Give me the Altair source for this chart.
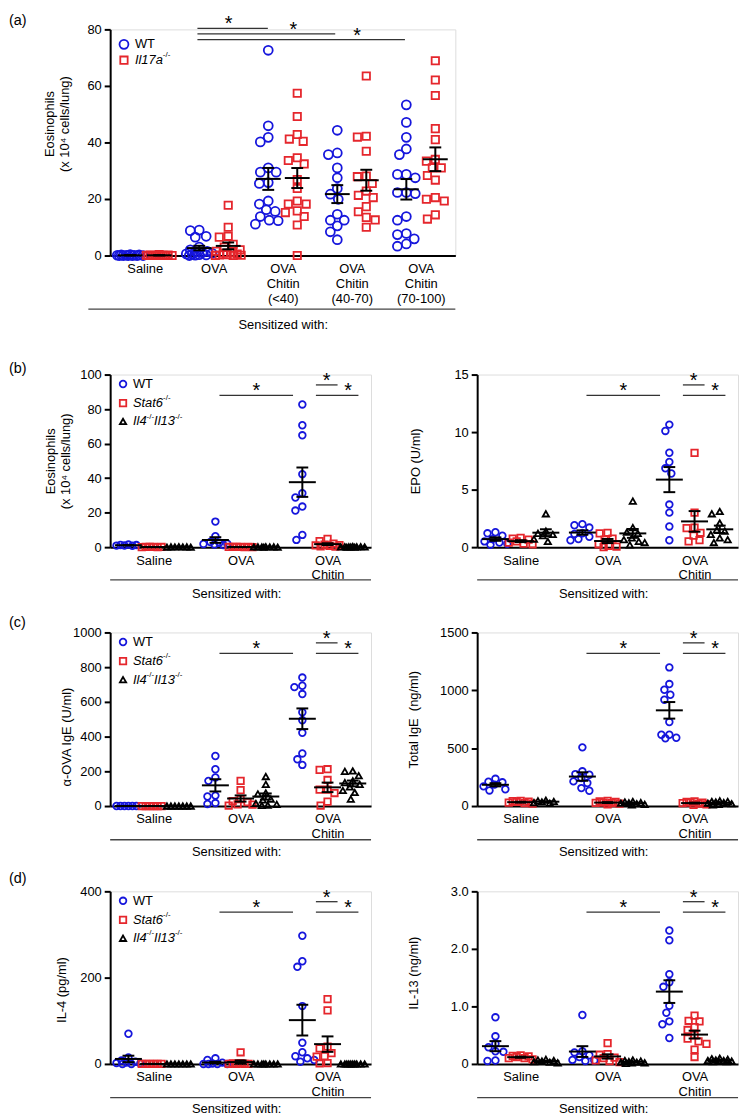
import json
import altair as alt
import pandas as pd

FONT = "Liberation Sans"
BLUE = "#1616dc"
RED = "#e5262c"
BLACK = "#000000"

# ---------------- data ----------------
# panel (a): lung eosinophils, WT vs Il17a-/-
a_categories = ["Saline", "OVA", "OVA|Chitin|(<40)", "OVA|Chitin|(40-70)", "OVA|Chitin|(70-100)"]
a_groups = ["WT", "Il17a"]
a_wt = [
    [0.3, 0.2, 0.2, 0.1, 0.1, 0.1, 0.0, 0.0, 0.0, 0.0, 0.0, 0.0],
    [9.0, 8.8, 6.8, 6.5, 3.0, 2.0, 1.5, 1.2, 1.0, 0.8, 0.6, 0.5, 0.3, 0.2, 0.1, 0.0],
    [72.6, 45.9, 41.8, 40.2, 31.0, 29.5, 29.5, 25.5, 25.8, 19.3, 18.2, 16.2, 15.6, 13.8, 12.5, 11.1, 12.3],
    [44.3, 35.7, 36.3, 31.0, 27.5, 23.7, 21.7, 19.9, 14.6, 12.5, 12.5, 10.5, 8.4, 5.6],
    [53.3, 47.1, 41.8, 37.7, 35.7, 28.7, 28.7, 27.5, 22.3, 22.3, 21.9, 13.8, 12.5, 7.8, 7.4, 5.9, 4.1, 3.3],
]
a_il17a = [
    [0.3, 0.2, 0.2, 0.1, 0.1, 0.1, 0.0, 0.0, 0.0, 0.0, 0.0, 0.0],
    [17.8, 10.0, 6.8, 6.5, 4.0, 3.0, 2.0, 1.5, 1.0, 0.8, 0.5, 0.3, 0.2, 0.1, 0.0, 0.0],
    [57.4, 49.2, 42.8, 41.2, 40.4, 34.6, 33.6, 32.4, 26.9, 23.7, 18.2, 19.3, 18.2, 15.8, 15.2, 13.8, 10.8, 0.0],
    [63.5, 42.2, 41.9, 36.9, 28.1, 27.9, 25.5, 22.8, 21.3, 20.5, 17.3, 15.5, 13.5, 12.6, 10.0],
    [68.9, 62.1, 56.6, 44.9, 41.0, 34.0, 33.4, 31.0, 31.0, 28.3, 26.7, 20.5, 19.9, 19.3, 12.9, 14.4],
]

# panels (b)-(d): WT vs Stat6-/- vs Il4-/-Il13-/-
bcd_categories = ["Saline", "OVA", "OVA|Chitin"]
bcd_groups = ["WT", "Stat6", "Il4Il13"]

eos_wt = [[1.5, 1.3, 1.2, 1.0, 0.9, 0.8], [14.8, 6.3, 3.0, 2.5, 2.0, 1.8, 1.5, 1.2],
          [82.7, 70.6, 64.8, 42.3, 31.2, 28.8, 23.5, 21.2, 7.1, 4.2]]
eos_stat6 = [[0.2, 0.1, 0.1, 0.1, 0.0, 0.0], [0.2, 0.2, 0.1, 0.1, 0.1, 0.0, 0.0],
             [4.8, 3.5, 2.0, 1.5, 1.2, 1.0, 0.8, 0.5, 0.3]]
eos_il4il13 = [[0.3, 0.2, 0.2, 0.1, 0.1, 0.0, 0.0], [0.3, 0.2, 0.2, 0.1, 0.1, 0.1, 0.0, 0.0],
               [0.4, 0.3, 0.3, 0.2, 0.2, 0.1, 0.1, 0.1, 0.0, 0.0]]

epo_wt = [[1.3, 1.2, 1.0, 0.7, 0.5, 0.4, 0.3, 0.2], [2.0, 1.9, 1.7, 1.2, 1.15, 0.9, 0.7, 0.6],
          [10.65, 10.1, 8.2, 7.4, 6.85, 6.4, 3.7, 3.0, 1.8, 0.6]]
epo_stat6 = [[0.8, 0.75, 0.65, 0.5, 0.4, 0.3, 0.25], [1.25, 1.2, 0.75, 0.65, 0.25, 0.1, 0.05, 0.0],
             [8.2, 3.0, 1.7, 1.65, 1.25, 1.0, 0.6, 0.5]]
epo_il4il13 = [[2.9, 1.4, 1.2, 1.1, 1.0, 0.7, 0.5], [4.0, 1.7, 1.3, 1.2, 0.8, 0.65, 0.5, 0.4, 0.2],
               [3.1, 2.9, 2.1, 1.5, 1.4, 1.1, 0.8, 0.65, 0.4]]

ovaige_wt = [[0, 0, 0, 0, 0, 0], [288, 212, 165, 145, 60, 55, 17, 12],
             [740, 693, 685, 645, 540, 494, 422, 303, 269, 237]]
ovaige_stat6 = [[0, 0, 0, 0, 0, 0], [145, 92, 40, 28, 22, 10, 8, 2],
                [212, 208, 150, 95, 94, 75, 25, 2]]
ovaige_il4il13 = [[0, 0, 0, 0, 0, 0, 0], [170, 125, 75, 70, 40, 35, 15, 10, 5, 3],
                  [202, 200, 175, 145, 135, 125, 110, 90, 78, 40]]

totige_wt = [[235, 210, 205, 185, 170, 145, 135], [507, 300, 276, 270, 242, 213, 199, 155, 132],
             [1198, 1054, 1005, 962, 918, 726, 616, 616, 590, 585]]
totige_stat6 = [[45, 42, 38, 35, 30, 25, 20], [45, 40, 35, 30, 28, 25, 20, 15],
                [40, 35, 30, 30, 25, 20, 15, 10]]
totige_il4il13 = [[50, 45, 40, 35, 30, 25], [40, 35, 30, 28, 25, 20, 15, 10],
                  [45, 40, 40, 35, 30, 25, 20, 15, 10]]

il4_wt = [[70, 15, 8, 5, 3, 2, 1, 0, 0], [13, 9, 3, 1, 0, 0, 0, 0],
          [297, 238, 225, 134, 49, 27, 18, 13, 9, 5]]
il4_stat6 = [[0, 0, 0, 0, 0, 0], [27, 2, 1, 0, 0, 0, 0],
             [150, 124, 40, 36, 25, 18, 17, 2, 1]]
il4_il4il13 = [[0, 0, 0, 0, 0, 0, 0], [0, 0, 0, 0, 0, 0, 0, 0],
               [0, 0, 0, 0, 0, 0, 0, 0, 0, 0]]

il13_wt = [[0.81, 0.48, 0.35, 0.29, 0.22, 0.21, 0.06, 0.05], [0.85, 0.22, 0.2, 0.15, 0.12, 0.07, 0.06, 0.05],
           [2.32, 2.15, 1.56, 1.42, 1.34, 1.01, 0.89, 0.74, 0.69, 0.45]]
il13_stat6 = [[0.15, 0.14, 0.13, 0.12, 0.1, 0.1, 0.08], [0.36, 0.17, 0.16, 0.11, 0.1, 0.06, 0.05, 0.03],
              [0.84, 0.75, 0.74, 0.64, 0.59, 0.5, 0.44, 0.39, 0.35, 0.25, 0.12]]
il13_il4il13 = [[0.08, 0.07, 0.06, 0.05, 0.04, 0.03, 0.02], [0.07, 0.06, 0.05, 0.04, 0.03, 0.03, 0.02, 0.02, 0.01],
                [0.1, 0.09, 0.08, 0.07, 0.06, 0.06, 0.05, 0.05, 0.04, 0.04]]

# significance brackets (category units) and legend text pieces
a_sig_x1 = [0.764, 0.764, 0.764]
a_sig_x2 = [1.784, 2.76, 3.77]
a_sig_y = [80.35, 78.4, 76.4]
a_star_x = [1.214, 2.153, 3.078]
bcd_sig_x1 = [0.757, 1.866, 1.866]
bcd_sig_x2 = [1.603, 2.115, 2.355]
bcd_sig_frac = [0.88, 0.94, 0.88]
bcd_star_x = [1.18, 1.99, 2.235]

a_legend_text = [[("WT", 0, False, False)],
                 [("Il17a", 0, True, False), ("-/-", 28.2, False, True)]]
bcd_legend_text = [[("WT", 0, False, False)],
                   [("Stat6", 0, True, False), ("-/-", 30.4, False, True)],
                   [("Il4", 0, True, False), ("-/-", 13.7, False, True),
                    ("Il13", 21.3, True, False), ("-/-", 42.3, False, True)]]

SHAPES = ["circle", "square", "triangle-up"]
COLORS = [BLUE, RED, BLACK]


def swarm(values, ppy, D, W):
    """Horizontal pixel offsets so that markers with close values sit side by side."""
    order = sorted(range(len(values)), key=lambda i: -values[i])
    cands = sorted(range(-W, W + 1), key=lambda o: (abs(o), o))
    placed = []
    offs = [0] * len(values)
    for i in order:
        y = values[i] * ppy
        best, best_d = 0, -1.0
        for o in cands:
            d = min((((o - px) ** 2 + (y - py) ** 2) ** 0.5 for px, py in placed), default=1e9)
            if d >= D:
                best = o
                break
            if d > best_d:
                best, best_d = o, d
        offs[i] = best
        placed.append((best, y))
    return offs


def panel(cats, groups, series, *, w, h, ymax, yticks, ytitle, title_x, title_y=None,
          ylabel_expr=None, goff, sizes, D, W, mean_hw, cap_hw,
          sig_x1, sig_x2, sig_y, star_x, legend_x=None, legend_y=None, legend_text=None,
          legend_dx=10, panel_label=None, label_y=0, sep_x=(-0.5, 2.5), sep_dy=34, xtitle_y=46,
          xtitle_x=None):
    n = len(cats)
    ppx = w / n
    ppy = h / ymax
    rows = []
    for gi, g in enumerate(groups):
        for ci in range(n):
            vals = series[gi][ci]
            offs = swarm(vals, ppy, D, W)
            for v, o in zip(vals, offs):
                rows.append({"grp": g, "xc": ci + goff[gi], "x": ci + goff[gi] + o / ppx, "value": v})
    df = pd.DataFrame(rows)

    xscale = alt.Scale(domain=[-0.5, n - 0.5], nice=False, zero=False)
    yscale = alt.Scale(domain=[0, ymax], nice=False, zero=True)
    ng = len(groups)
    shape_enc = alt.Shape("grp:N", scale=alt.Scale(domain=groups, range=SHAPES[:ng]), legend=None)
    color_enc = alt.Color("grp:N", scale=alt.Scale(domain=groups, range=COLORS[:ng]), legend=None)
    size_enc = alt.Size("grp:O", scale=alt.Scale(domain=groups, range=sizes), legend=None)

    xaxis = alt.Axis(values=list(range(n)), ticks=False, domain=True, domainColor="black", domainWidth=2,
                     labelExpr=f"split({json.dumps(cats)}[datum.value], '|')",
                     labelFontSize=13, labelFont=FONT, labelColor="black", labelPadding=7,
                     labelLineHeight=15, labelOverlap=False, labelFlush=False, labelAngle=0, grid=False,
                     title="Sensitized with:", titleFontSize=13, titleFont=FONT, titleFontWeight="normal",
                     titleColor="black", titleX=(w / 2 if xtitle_x is None else xtitle_x), titleY=xtitle_y,
                     titleAlign="center", titleAngle=0, titleBaseline="middle")
    ykw = dict(values=yticks, tickSize=6, tickWidth=2, tickColor="black", domainColor="black",
               domainWidth=2, labelFontSize=13, labelFont=FONT, labelColor="black", labelPadding=3,
               labelOverlap=False, labelFlush=False, grid=False, title=ytitle, titleFontSize=13,
               titleFont=FONT, titleFontWeight="normal",
               titleColor="black", titleAngle=270, titleAlign="center", titleBaseline="bottom",
               titleX=title_x, titleY=(h / 2 if title_y is None else title_y), titleLineHeight=15)
    if ylabel_expr is not None:
        ykw["labelExpr"] = ylabel_expr
    else:
        ykw["format"] = "d"
    yaxis = alt.Axis(**ykw)

    # every layer carries the very same axis definition so that the merged axis keeps it
    def X(f):
        return alt.X(f, scale=xscale, axis=xaxis)

    def Y(f):
        return alt.Y(f, scale=yscale, axis=yaxis)

    points = alt.Chart(df).mark_point(filled=False, strokeWidth=1.8, opacity=1).encode(
        x=X("x:Q"), y=Y("value:Q"), shape=shape_enc, color=color_enc, size=size_enc)

    stats = alt.Chart(df).transform_aggregate(
        m="mean(value)", se="stderr(value)", groupby=["xc"]
    ).transform_calculate(
        x1=f"datum.xc - {mean_hw}", x2=f"datum.xc + {mean_hw}",
        c1=f"datum.xc - {cap_hw}", c2=f"datum.xc + {cap_hw}",
        lo="datum.m - datum.se", hi="datum.m + datum.se")
    mean_rule = stats.mark_rule(color="black", strokeWidth=2).encode(x=X("x1:Q"), x2="x2:Q", y=Y("m:Q"))
    sem_rule = stats.mark_rule(color="black", strokeWidth=2).encode(x=X("xc:Q"), y=Y("lo:Q"), y2="hi:Q")
    cap_lo = stats.mark_rule(color="black", strokeWidth=2).encode(x=X("c1:Q"), x2="c2:Q", y=Y("lo:Q"))
    cap_hi = stats.mark_rule(color="black", strokeWidth=2).encode(x=X("c1:Q"), x2="c2:Q", y=Y("hi:Q"))

    sig_df = pd.DataFrame({"x1": sig_x1, "x2": sig_x2, "y": sig_y})
    star_df = pd.DataFrame({"x": star_x, "y": sig_y, "t": ["*"] * len(star_x)})
    sig_rule = alt.Chart(sig_df).mark_rule(color="#333333", strokeWidth=1.3).encode(
        x=X("x1:Q"), x2="x2:Q", y=Y("y:Q"))
    stars = alt.Chart(star_df).mark_text(fontSize=20, baseline="alphabetic", dy=2, font=FONT,
                                         color="black").encode(x=X("x:Q"), y=Y("y:Q"), text="t:N")

    sep = alt.Chart(pd.DataFrame({"x1": [sep_x[0]], "x2": [sep_x[1]]})).mark_rule(
        color="#444444", strokeWidth=1.3).encode(x=X("x1:Q"), x2="x2:Q", y=alt.value(h + sep_dy))

    layers = [points, mean_rule, sem_rule, cap_lo, cap_hi, sig_rule, stars, sep]

    if legend_text is not None:
        leg_df = pd.DataFrame({"grp": groups, "x": [legend_x] * ng, "y": legend_y})
        layers.append(alt.Chart(leg_df).mark_point(filled=False, strokeWidth=1.8, opacity=1).encode(
            x=X("x:Q"), y=Y("y:Q"), shape=shape_enc, color=color_enc, size=size_enc))
        for gi, segs in enumerate(legend_text):
            for txt, dxp, italic, sup in segs:
                tdf = pd.DataFrame({"x": [legend_x], "y": [legend_y[gi]], "t": [txt]})
                layers.append(alt.Chart(tdf).mark_text(
                    align="left", baseline="middle", dx=legend_dx + dxp, dy=(-5 if sup else 0),
                    fontSize=(8 if sup else 13), fontStyle=("italic" if italic else "normal"),
                    font=FONT, color="black").encode(x=X("x:Q"), y=Y("y:Q"), text="t:N"))

    if panel_label is not None:
        layers.append(alt.Chart(pd.DataFrame({"t": [panel_label]})).mark_text(
            align="left", baseline="middle", fontSize=14.5, font=FONT, color="black").encode(
            x=alt.value(-102), y=alt.value(label_y), text="t:N"))

    return alt.layer(*layers).properties(width=w, height=h)


EOS_TITLE = ["Eosinophils", "(x 10\u2074 cells/lung)"]
common_bcd = dict(goff=[-0.29, 0.0, 0.29], sizes=[45, 40, 55], D=7.5, W=12,
                  mean_hw=0.155, cap_hw=0.068, sig_x1=bcd_sig_x1, sig_x2=bcd_sig_x2, star_x=bcd_star_x,
                  xtitle_x=127)

pa = panel(a_categories, a_groups, [a_wt, a_il17a], w=348, h=228, ymax=80, yticks=[0, 20, 40, 60, 80],
           ytitle=EOS_TITLE, title_x=-54, title_y=95, goff=[-0.21, 0.21], sizes=[81, 55], D=9, W=13,
           mean_hw=0.18, cap_hw=0.086, sig_x1=a_sig_x1, sig_x2=a_sig_x2, sig_y=a_sig_y, star_x=a_star_x,
           legend_x=-0.3, legend_y=[74.7, 69.1], legend_text=a_legend_text, legend_dx=11,
           panel_label="(a)", label_y=-8, sep_x=(-0.816, 4.5), sep_dy=54, xtitle_y=70)


def sig_y_for(ymax):
    return [f * ymax for f in bcd_sig_frac]


def leg_y_for(ymax):
    return [0.945 * ymax, 0.835 * ymax, 0.728 * ymax]


pb1 = panel(bcd_categories, bcd_groups, [eos_wt, eos_stat6, eos_il4il13], w=263, h=174, ymax=100,
            yticks=[0, 20, 40, 60, 80, 100], ytitle=EOS_TITLE, title_x=-53, sig_y=sig_y_for(100),
            legend_x=-0.352, legend_y=leg_y_for(100), legend_text=bcd_legend_text,
            panel_label="(b)", label_y=-6, sep_dy=33, xtitle_y=47, **common_bcd)
pb2 = panel(bcd_categories, bcd_groups, [epo_wt, epo_stat6, epo_il4il13], w=263, h=174, ymax=15,
            yticks=[0, 5, 10, 15], ytitle="EPO (U/ml)", title_x=-55, sig_y=sig_y_for(15),
            sep_dy=33, xtitle_y=47, **common_bcd)
pc1 = panel(bcd_categories, bcd_groups, [ovaige_wt, ovaige_stat6, ovaige_il4il13], w=263, h=175, ymax=1000,
            yticks=[0, 200, 400, 600, 800, 1000], ytitle="\u03b1-OVA IgE (U/ml)", title_x=-37, title_y=105,
            sig_y=sig_y_for(1000), legend_x=-0.352, legend_y=leg_y_for(1000), legend_text=bcd_legend_text,
            panel_label="(c)", label_y=-10, sep_dy=34, xtitle_y=46, **common_bcd)
pc2 = panel(bcd_categories, bcd_groups, [totige_wt, totige_stat6, totige_il4il13], w=263, h=175, ymax=1500,
            yticks=[0, 500, 1000, 1500], ytitle="Total IgE\u00a0 (ng/ml)", title_x=-57,
            sig_y=sig_y_for(1500), sep_dy=34, xtitle_y=46, **common_bcd)
pd1 = panel(bcd_categories, bcd_groups, [il4_wt, il4_stat6, il4_il4il13], w=263, h=174, ymax=400,
            yticks=[0, 200, 400], ytitle="IL-4 (pg/ml)", title_x=-42, title_y=99, sig_y=sig_y_for(400),
            legend_x=-0.352, legend_y=leg_y_for(400), legend_text=bcd_legend_text,
            panel_label="(d)", label_y=-12, sep_dy=34, xtitle_y=45, **common_bcd)
pd2 = panel(bcd_categories, bcd_groups, [il13_wt, il13_stat6, il13_il4il13], w=263, h=174, ymax=3.0,
            yticks=[0, 1, 2, 3], ytitle="IL-13 (ng/ml)", title_x=-57, title_y=82,
            ylabel_expr="datum.value == 0 ? '0' : format(datum.value, '.1f')",
            sig_y=sig_y_for(3.0), sep_dy=34, xtitle_y=45, **common_bcd)

grid = alt.concat(pb1, pb2, pc1, pc2, pd1, pd2, columns=2,
                  spacing={"row": 86, "column": 107}, bounds="flush", align="none"
                  ).resolve_scale(color="independent", shape="independent", size="independent")

chart = alt.vconcat(pa, grid, spacing=120, bounds="flush").resolve_scale(
    color="independent", shape="independent", size="independent"
).properties(
    padding={"left": 0, "top": 0, "right": 2, "bottom": 2}
).configure_view(strokeWidth=0, stroke="transparent").configure_axis(
    labelOverlap=False
).configure(font=FONT, background="white")

chart.save("out.html", embed_options={"renderer": "svg", "actions": False})
